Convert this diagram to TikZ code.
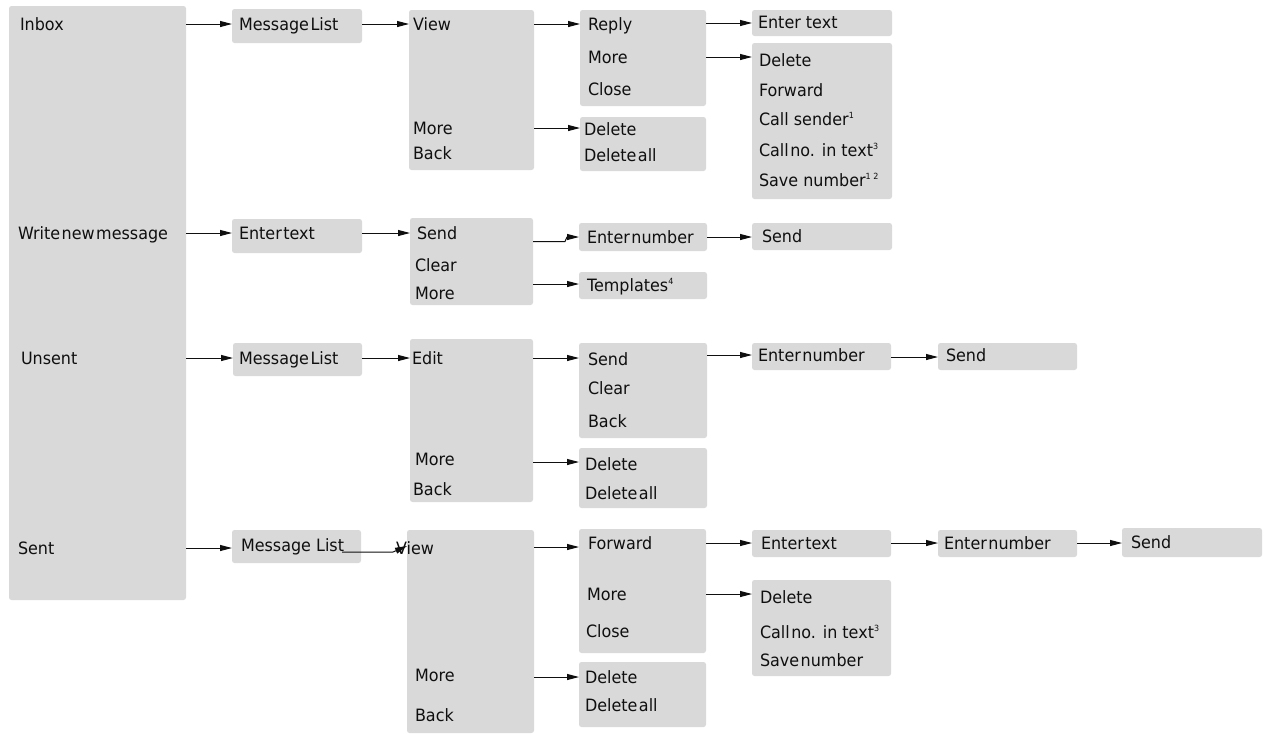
\documentclass[tikz,border=0pt]{standalone}
\usepackage{fontspec}
\setmainfont{DejaVu Sans}[FakeStretch=0.94]
\usetikzlibrary{arrows.meta,fit}
\definecolor{boxgray}{RGB}{217,217,217}
\definecolor{ink}{RGB}{15,15,15}
\newcommand\tgt[1]{{\spaceskip=1.5pt\relax #1}}
\newcommand\fnm[1]{\raisebox{6.5pt}{\fontsize{8.5}{9}\selectfont #1}}
\newcommand\gb[5]{\node[gbox, fit={(#2,#3) (#4,#5)}] (#1) {};}
\newcommand\tx[4]{\node[lbl] (#1) at (#2,#3+6) {#4};}
\newcommand\conn[4]{\draw[arr] (#1.east |- 0,#3) -- (#2.west |- 0,#4);}
\tikzset{
  gbox/.style={fill=boxgray, draw=none, rounded corners=2.5pt, inner sep=0pt, outer sep=0pt},
  lbl/.style={anchor=base west, inner sep=0pt, outer sep=0pt, text=ink, font=\fontsize{17}{20}\selectfont},
  arr/.style={draw=ink, line width=1pt, -{Triangle[length=12pt,width=6pt]}}
}
\begin{document}
\begin{tikzpicture}[x=1pt,y=-1pt]
\useasboundingbox (0,0) rectangle (1265,734);
% ---------- boxes ----------
\gb{inbox}{9}{6}{186}{600}
% row 1
\gb{ml1}{232}{9}{362}{43}
\gb{view1}{409}{10}{534}{170}
\gb{reply}{580}{10}{706}{106}
\gb{del1}{580}{117}{706}{171}
\gb{et1}{752}{10}{892}{36}
\gb{more1}{752}{43}{892}{199}
% row 2
\gb{et2}{232}{219}{362}{253}
\gb{send2}{410}{218}{533}{305}
\gb{en2}{579}{223}{707}{251}
\gb{tpl}{579}{272}{707}{299}
\gb{s2}{752}{223}{892}{250}
% row 3
\gb{ml3}{233}{343}{362}{376}
\gb{edit}{410}{339}{533}{502}
\gb{send3}{579}{343}{707}{438}
\gb{del3}{579}{448}{707}{508}
\gb{en3}{752}{343}{891}{370}
\gb{s3}{938}{343}{1077}{370}
% row 4
\gb{ml4}{232}{530}{361}{563}
\gb{view4}{407}{530}{534}{733}
\gb{fwd}{579}{529}{706}{653}
\gb{del4}{579}{662}{706}{727}
\gb{et4}{752}{530}{891}{557}
\gb{en4}{938}{530}{1077}{557}
\gb{s4}{1122}{528}{1262}{557}
\gb{more4}{752}{580}{891}{676}
% ---------- connectors ----------
\conn{inbox}{ml1}{24}{24}
\conn{ml1}{view1}{24}{24}
\conn{view1}{reply}{24}{24}
\conn{reply}{et1}{23}{23}
\conn{reply}{more1}{57}{57}
\conn{view1}{del1}{128}{128}
\conn{inbox}{et2}{233}{233}
\conn{et2}{send2}{233}{233}
\draw[arr] (send2.east |- 0,241.5) -- (565,241.5) -- (567,237) -- (en2.west |- 0,237);
\conn{send2}{tpl}{284}{284}
\conn{en2}{s2}{237}{237}
\conn{inbox}{ml3}{358}{358}
\conn{ml3}{edit}{358}{358}
\conn{edit}{send3}{358}{358}
\conn{edit}{del3}{462}{462}
\conn{send3}{en3}{355}{355}
\conn{en3}{s3}{357}{357}
\conn{inbox}{ml4}{548}{548}
\coordinate (ml4tail) at (342,552);
\draw[arr] (ml4tail) -- (393,552) -- (view4.west |- 0,546);
\conn{view4}{fwd}{547}{547}
\conn{view4}{del4}{677}{677}
\conn{fwd}{et4}{543}{543}
\conn{et4}{en4}{543}{543}
\conn{en4}{s4}{543}{543}
\conn{fwd}{more4}{594}{594}
% ---------- texts ----------
\tx{tInbox}{20}{24}{Inbox}
\tx{tWrite}{18}{233}{\tgt{Write new message}}
\tx{tUnsent}{21}{358}{Unsent}
\tx{tSent}{18}{548}{Sent}
% row 1
\tx{t1a}{239}{24}{\tgt{Message List}}
\tx{t1b}{413}{24}{View}
\tx{t1c}{413}{128}{More}
\tx{t1d}{413}{153}{Back}
\tx{t1e}{588}{24}{Reply}
\tx{t1f}{588}{57}{More}
\tx{t1g}{588}{89}{Close}
\tx{t1h}{584}{129}{Delete}
\tx{t1i}{584}{155}{\tgt{Delete all}}
\tx{t1j}{758}{22}{Enter text}
\tx{t1k}{759}{60}{Delete}
\tx{t1l}{759}{90}{Forward}
\tx{t1m}{759}{119}{Call sender\fnm{1}}
\tx{t1n}{759}{150}{\tgt{Call no.} in text\fnm{3}}
\tx{t1o}{759}{180}{Save number\fnm{1 2}}
% row 2
\tx{t2a}{239}{233}{\tgt{Enter text}}
\tx{t2b}{417}{233}{Send}
\tx{t2c}{415}{265}{Clear}
\tx{t2d}{415}{293}{More}
\tx{t2e}{587}{237}{\tgt{Enter number}}
\tx{t2f}{587}{285}{Templates\fnm{4}}
\tx{t2g}{762}{236}{Send}
% row 3
\tx{t3a}{239}{358}{\tgt{Message List}}
\tx{t3b}{412}{358}{Edit}
\tx{t3c}{415}{459}{More}
\tx{t3d}{413}{489}{Back}
\tx{t3e}{588}{359}{Send}
\tx{t3f}{588}{388}{Clear}
\tx{t3g}{588}{421}{Back}
\tx{t3h}{585}{464}{Delete}
\tx{t3i}{585}{493}{\tgt{Delete all}}
\tx{t3j}{758}{355}{\tgt{Enter number}}
\tx{t3k}{946}{355}{Send}
% row 4
\tx{t4a}{241}{545}{Message List}
\tx{t4b}{396}{548}{View}
\tx{t4c}{415}{675}{More}
\tx{t4d}{415}{715}{Back}
\tx{t4e}{588}{543}{Forward}
\tx{t4f}{587}{594}{More}
\tx{t4g}{586}{631}{Close}
\tx{t4h}{585}{677}{Delete}
\tx{t4i}{585}{705}{\tgt{Delete all}}
\tx{t4j}{761}{543}{\tgt{Enter text}}
\tx{t4k}{944}{543}{\tgt{Enter number}}
\tx{t4l}{1131}{542}{Send}
\tx{t4m}{760}{597}{Delete}
\tx{t4n}{760}{632}{\tgt{Call no.} in text\fnm{3}}
\tx{t4o}{760}{660}{\tgt{Save number}}
\end{tikzpicture}
\end{document}
